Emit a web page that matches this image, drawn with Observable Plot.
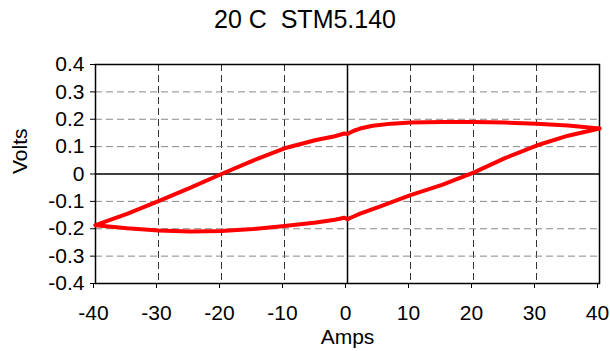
<!DOCTYPE html>
<html>
<head>
<meta charset="utf-8">
<script src="https://cdn.jsdelivr.net/npm/d3@7"></script>
<script src="https://cdn.jsdelivr.net/npm/@observablehq/plot@0.6"></script>
<style>
  body { margin: 0; background: #fff; }
  #title { width: 610px; height: 38px; padding-top: 7px; text-align: center;
    font: 25px "Liberation Sans", Arial, sans-serif; line-height: 25px; color: #000; }
</style>
</head>
<body>
<div id="title">20 C&nbsp;&nbsp;STM5.140</div>
<div id="chart"></div>
<script>
const titleText = "20 C  STM5.140";
const xLabel = "Amps";
const yLabel = "Volts";
const xTicks = [-40, -30, -20, -10, 0, 10, 20, 30, 40];
const yTicks = [-0.4, -0.3, -0.2, -0.1, 0, 0.1, 0.2, 0.3, 0.4];

// Upper branch (current increasing)
const upperAmps  = [-40, -35, -30, -25, -20, -15, -10, -5, -2, -0.5, 0, 1, 2, 4, 7, 10, 15, 20, 25, 30, 35, 40];
const upperVolts = [-0.187, -0.146, -0.099, -0.051, 0.0, 0.049, 0.094, 0.124, 0.138, 0.148, 0.146, 0.158, 0.166, 0.176, 0.184, 0.188, 0.190, 0.190, 0.188, 0.184, 0.177, 0.166];
// Lower branch (current decreasing)
const lowerAmps  = [40, 35, 30, 25, 20, 15, 10, 5, 2, 0.7, 0, -0.5, -2, -5, -10, -15, -20, -25, -30, -35, -40];
const lowerVolts = [0.166, 0.140, 0.104, 0.058, 0.005, -0.040, -0.077, -0.120, -0.145, -0.158, -0.165, -0.160, -0.167, -0.177, -0.190, -0.201, -0.208, -0.210, -0.206, -0.198, -0.187];

const data = [
  ...upperAmps.map((a, i) => ({branch: "up", amps: a, volts: upperVolts[i]})),
  ...lowerAmps.map((a, i) => ({branch: "down", amps: a, volts: lowerVolts[i]}))
];

const fmt = v => {
  const s = Math.abs(v) < 1e-9 ? "0" : String(+v.toFixed(1));
  return s.replace("\u2212", "-");
};

const plot = Plot.plot({
  width: 610,
  height: 306,
  marginTop: 19,
  marginBottom: 68,
  marginLeft: 95,
  marginRight: 11,
  style: {fontFamily: "'Liberation Sans', Arial, sans-serif", fontSize: "21px", color: "#000", background: "#fff"},
  x: {domain: [-40, 40]},
  y: {domain: [-0.4, 0.4]},
  marks: [
    Plot.ruleX(xTicks.filter(d => d !== 0 && Math.abs(d) !== 40), {stroke: "#333", strokeWidth: 1, strokeDasharray: "7,4", strokeOpacity: 1}),
    Plot.ruleY(yTicks.filter(d => d !== 0 && Math.abs(d) !== 0.4), {stroke: "#888", strokeWidth: 1, strokeDasharray: "7,4", strokeOpacity: 1}),
    Plot.ruleX([0], {stroke: "#000", strokeWidth: 1.5}),
    Plot.ruleY([0], {stroke: "#000", strokeWidth: 1.5}),
    Plot.frame({stroke: "#000", strokeWidth: 1.5}),
    Plot.axisX({ticks: xTicks, tickFormat: fmt, tickSize: 5, tickPadding: 17, label: null, stroke: "#000", dx: -2}),
    Plot.axisY({ticks: yTicks, tickFormat: fmt, tickSize: 5, tickPadding: 6, label: null, stroke: "#000"}),
    Plot.line(data, {x: "amps", y: "volts", z: "branch", stroke: "#ff0000", strokeWidth: 4, strokeLinejoin: "round", strokeLinecap: "round"}),
    Plot.text([xLabel], {frameAnchor: "bottom", text: d => d, dy: 54, lineAnchor: "middle", fill: "#000"}),
    Plot.text([yLabel], {frameAnchor: "left", text: d => d, dx: -75, rotate: -90, lineAnchor: "middle", fill: "#000"})
  ]
});
document.getElementById("chart").appendChild(plot);
</script>
</body>
</html>
